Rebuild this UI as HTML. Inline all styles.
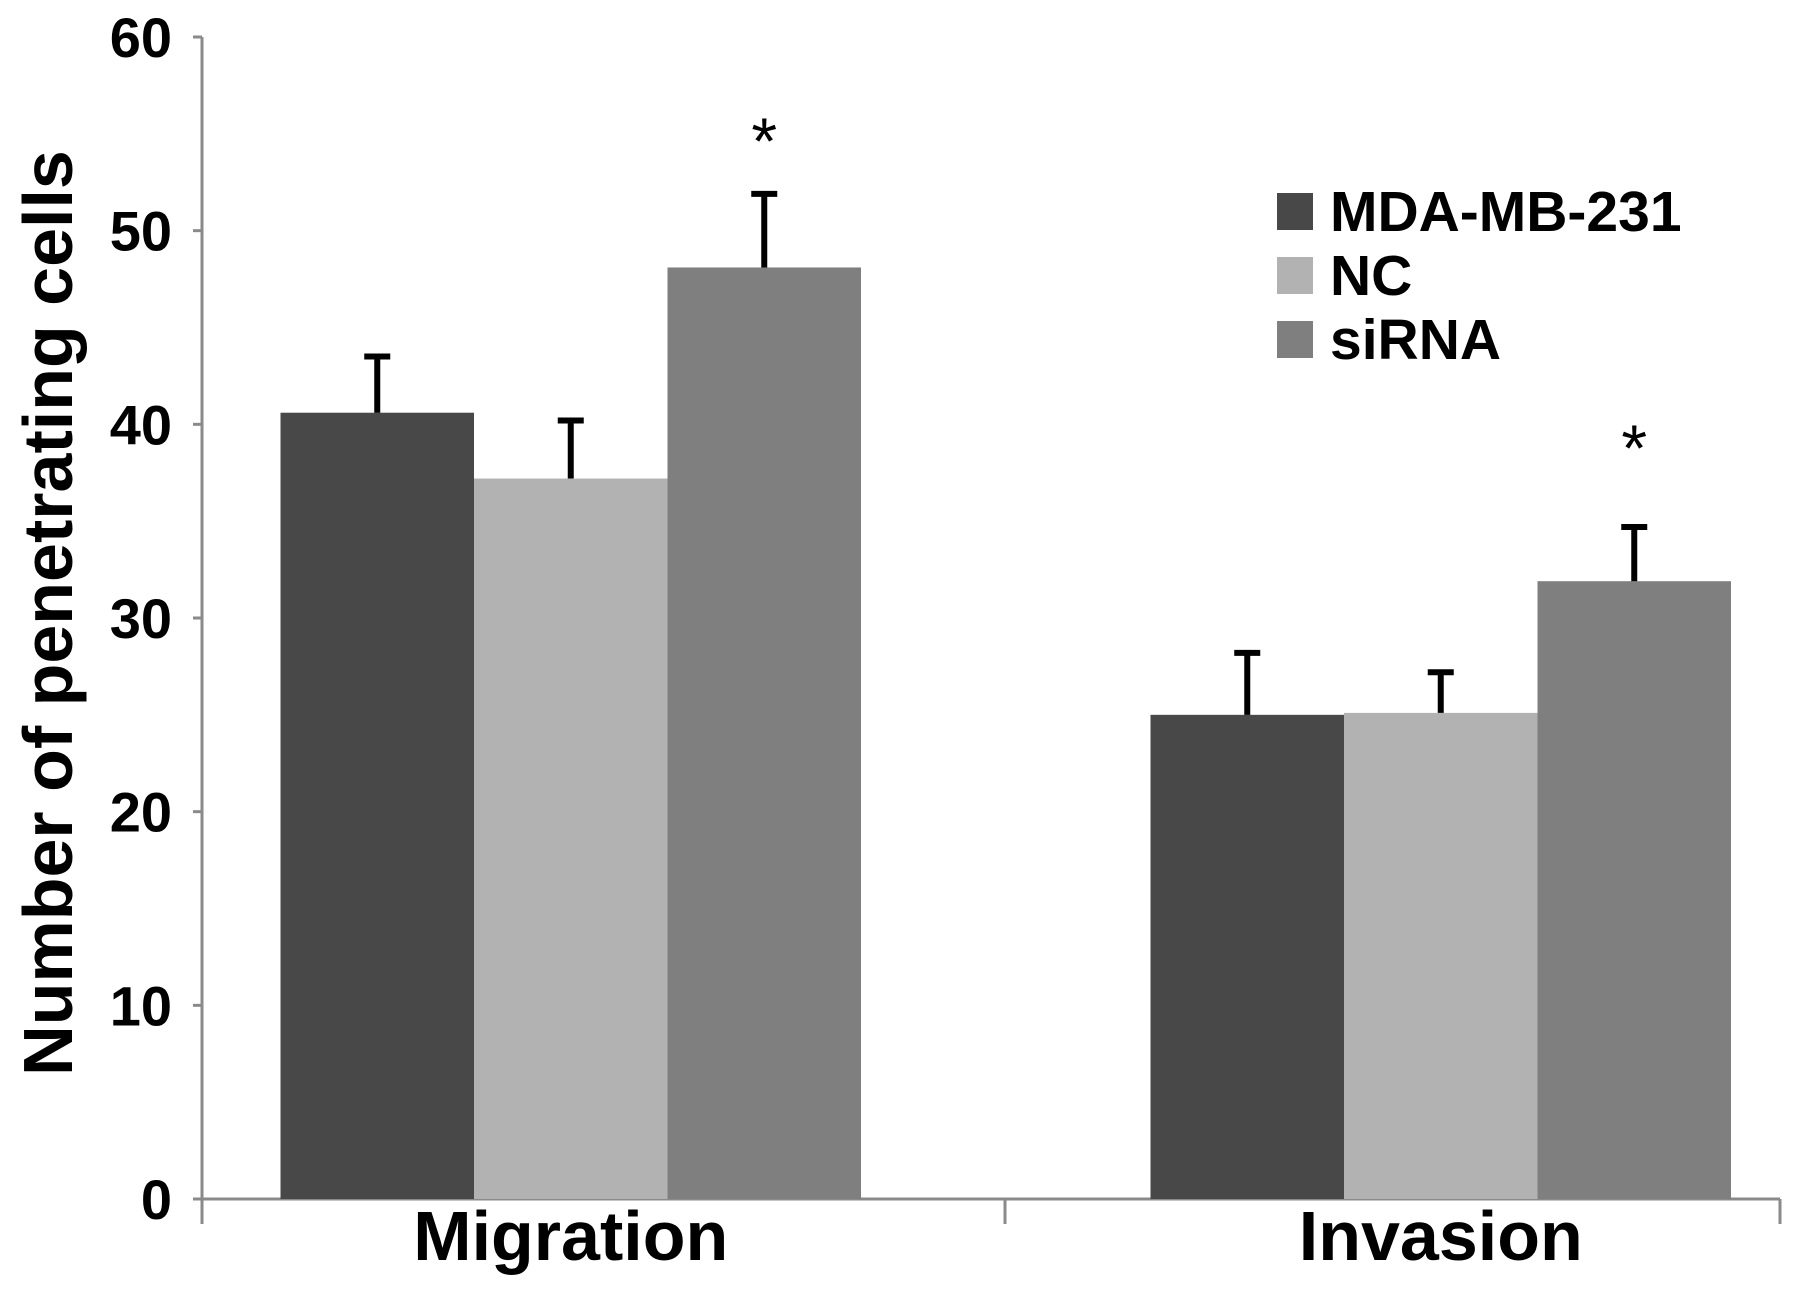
<!DOCTYPE html>
<html><head><meta charset="utf-8"><style>
body{margin:0;background:#fff}
svg text{font-family:"Liberation Sans",sans-serif;font-weight:bold}
</style></head><body>
<svg id="chart" width="1795" height="1287" viewBox="0 0 1795 1287" xmlns="http://www.w3.org/2000/svg">
<g id="axes"></g>
<g id="bars"></g>
<text transform="translate(72,613) rotate(-90)" text-anchor="middle" font-size="70" fill="#000">Number of penetrating cells</text>
<g>
<rect x="1277" y="193" width="36" height="37" fill="#484848"/>
<text x="1330" y="231" font-size="57">MDA-MB-231</text>
<rect x="1277" y="257" width="36" height="37" fill="#b2b2b2"/>
<text x="1330" y="295" font-size="57">NC</text>
<rect x="1277" y="321" width="36" height="37" fill="#7f7f7f"/>
<text x="1330" y="359" font-size="57">siRNA</text>
</g>
</svg>
<script>
const categories=["Migration","Invasion"];
const seriesNames=["MDA-MB-231","NC","siRNA"];
const mdaValues=[40.6,25.0];
const ncValues=[37.2,25.1];
const sirnaValues=[48.1,31.9];
const mdaErr=[2.9,3.2];
const ncErr=[3.0,2.1];
const sirnaErr=[3.8,2.8];
const significant=[false,false,true];
const yTicks=[0,10,20,30,40,50,60];
const NS="http://www.w3.org/2000/svg";
const x0=202,x1=1780,y0=1199,yTop=37,yMax=60;
const colors=["#484848","#b2b2b2","#7f7f7f"];
const series=[mdaValues,ncValues,sirnaValues],errs=[mdaErr,ncErr,sirnaErr];
function y(v){return y0-(v/yMax)*(y0-yTop);}
const barW=193.5;
function el(tag,attrs,parent){const e=document.createElementNS(NS,tag);for(const k in attrs)e.setAttribute(k,attrs[k]);parent.appendChild(e);return e;}
const axes=document.getElementById('axes'),bars=document.getElementById('bars');
let a=el('line',{x1:x0,y1:y(yMax),x2:x0,y2:y0,stroke:'#8a8a8a','stroke-width':3},axes);


a=el('line',{x1:x0-9,y1:y0,x2:x1,y2:y0,stroke:'#8a8a8a','stroke-width':3},axes);


yTicks.forEach(t=>{
 const l=el('line',{x1:x0-9,y1:y(t),x2:x0,y2:y(t),stroke:'#8a8a8a','stroke-width':3},axes);
 
 
 const tx=el('text',{x:172,y:y(t)+20,'text-anchor':'end','font-size':56},axes);
 tx.textContent=t;
 
 
});
[x0,1005,x1].forEach(xx=>{
 const l=el('line',{x1:xx,y1:y0,x2:xx,y2:y0+25,stroke:'#8a8a8a','stroke-width':3},axes);
 
 
});
const starts=[280.5,1150.5];
categories.forEach((c,i)=>{
 const gx=starts[i];
 series.forEach((s,j)=>{
  const bx=gx+j*barW;
  const r=el('rect',{x:bx,y:y(s[i]),width:barW,height:y0-y(s[i]),fill:colors[j]},bars);
  
  
  const cx=bx+barW/2,top=y(s[i]+errs[j][i]);
  const e=el('path',{d:`M${cx},${y(s[i])} V${top} M${cx-13},${top} H${cx+13}`,stroke:'#000','stroke-width':6,fill:'none'},bars);
  
  
  if(significant[j]){
   const st=el('text',{x:cx,y:top-(i===0?30:56),'text-anchor':'middle','font-size':66},bars);
   st.textContent='*';
   
   
   st.setAttribute('style','font-weight:normal');
  }
 });
 const lt=el('text',{x:gx+barW*1.5,y:1260,'text-anchor':'middle','font-size':70},bars);
 lt.textContent=c;
 
 
});
</script>
</body></html>
